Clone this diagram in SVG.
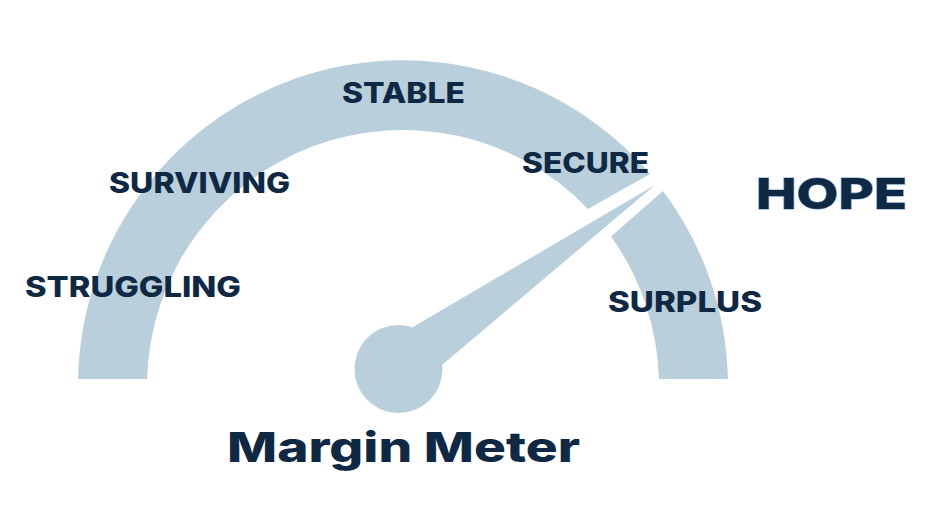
<svg xmlns="http://www.w3.org/2000/svg" width="930" height="522" viewBox="0 0 930 522">
<style>
.g{fill:#b9d0dc}
.t{font-family:Inter,"Open Sans","Liberation Sans",sans-serif;font-weight:800;fill:#0f2844}
.lbl{font-size:28px}
</style>
<rect width="930" height="522" fill="#ffffff"/>
<g id="gauge">
<path id="arc-main" class="g" d="M78.1,379 A325,325 0 0 1 650,174 L588,209 A256,256 0 0 0 147.1,379 Z"/>
<path id="arc-surplus" class="g" d="M663,191 A325,325 0 0 1 727.9,379 L658.9,379 A256,256 0 0 0 611,236.5 Z"/>
</g>
<g id="needle">
<polygon class="g" points="413,327 655,185 442,365"/>
<circle class="g" cx="398.5" cy="369" r="44"/>
</g>
<g id="labels">
<text id="struggling" class="t lbl" x="25" y="297" textLength="216" lengthAdjust="spacingAndGlyphs">STRUGGLING</text>
<text id="surviving" class="t lbl" x="109" y="193" textLength="181" lengthAdjust="spacingAndGlyphs">SURVIVING</text>
<text id="stable" class="t lbl" x="342" y="103" textLength="123" lengthAdjust="spacingAndGlyphs">STABLE</text>
<text id="secure" class="t lbl" x="522" y="173" textLength="127" lengthAdjust="spacingAndGlyphs">SECURE</text>
<text id="surplus" class="t lbl" x="608" y="312" textLength="154" lengthAdjust="spacingAndGlyphs">SURPLUS</text>
<text id="hope" class="t" x="756" y="209" font-size="43" textLength="151" lengthAdjust="spacingAndGlyphs" stroke="#6f9cc4" stroke-width="1.2" paint-order="stroke">HOPE</text>
<text id="title" class="t" x="227" y="462" font-size="41" font-weight="700" textLength="353" lengthAdjust="spacingAndGlyphs">Margin Meter</text>
</g>
</svg>
